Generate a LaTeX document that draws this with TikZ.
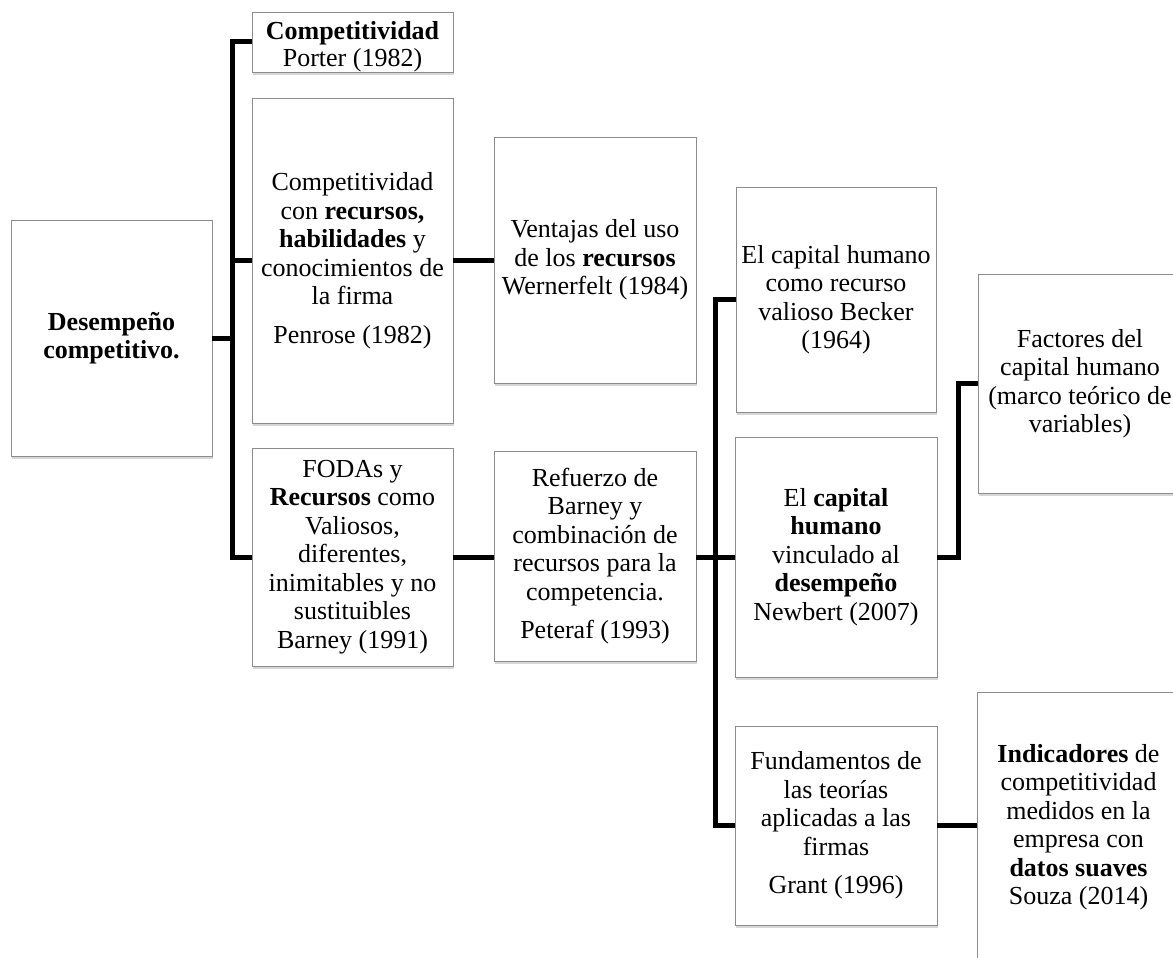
\documentclass[tikz,border=0pt]{standalone}
\usepackage{fontspec}
\setmainfont{Liberation Serif}
\usetikzlibrary{shadows,calc}
\begin{document}
\begin{tikzpicture}[x=1pt,y=-1pt,
  box/.style={draw=black!45, line width=0.9pt, fill=white, inner sep=0pt,
    align=center, anchor=center,
    drop shadow={shadow xshift=1pt, shadow yshift=-3pt, opacity=0.35, fill=black!45},
    font=\fontsize{26}{28.5}\selectfont},
  conn/.style={line width=5pt, line join=miter, line cap=butt}]
\useasboundingbox (0,0) rectangle (1173,958);
\clip (0,0) rectangle (1173,958);
\fill[white] (0,0) rectangle (1173,958);

\node[box, minimum width=201pt, minimum height=236pt] (des) at (111.5,338)
  {\textbf{Desempeño}\\\textbf{competitivo.}};
\node[box, minimum width=201pt, minimum height=60pt] (por) at (352.5,42)
  {\rule{0pt}{28pt}\textbf{Competitividad}\\[-2pt]Porter (1982)};
\node[box, minimum width=201pt, minimum height=325pt] (pen) at (352.5,260.5)
  {Competitividad\\con \textbf{recursos,}\\\textbf{habilidades} y\\conocimientos de\\la firma\\[10pt]Penrose (1982)};
\node[box, minimum width=201pt, minimum height=218pt] (bar) at (352.5,557)
  {FODAs y\\\textbf{Recursos} como\\Valiosos,\\diferentes,\\inimitables y no\\sustituibles\\Barney (1991)};
\node[box, minimum width=202pt, minimum height=246pt] (wer) at (595,260)
  {Ventajas del uso\\de los \textbf{recursos}\\Wernerfelt (1984)};
\node[box, minimum width=202pt, minimum height=210pt] (pet) at (595,556)
  {Refuerzo de\\Barney y\\combinación de\\recursos para la\\competencia.\\[10pt]Peteraf (1993)};
\node[box, minimum width=200pt, minimum height=225pt] (bec) at (836,299.5)
  {El capital humano\\como recurso\\valioso Becker\\(1964)};
\node[box, minimum width=202pt, minimum height=240pt] (new) at (836,557)
  {El \textbf{capital}\\\textbf{humano}\\vinculado al\\\textbf{desempeño}\\Newbert (2007)};
\node[box, minimum width=202pt, minimum height=199pt] (gra) at (836,825.5)
  {Fundamentos de\\las teorías\\aplicadas a las\\firmas\\[10pt]Grant (1996)};
\node[box, minimum width=204pt, minimum height=219pt] (fac) at (1080,383.5)
  {Factores del\\capital humano\\(marco teórico de\\variables)};
\node[box, minimum width=203pt, minimum height=270pt] (sou) at (1078.5,827)
  {\textbf{Indicadores} de\\competitividad\\medidos en la\\empresa con\\\textbf{datos suaves}\\Souza (2014)};

\coordinate (t1) at (232.5,338);
\coordinate (t2) at (715,557);
\coordinate (t3) at (958,470);

\draw[conn] (des.east) -- (t1);
\draw[conn] (por.west) -| (t1) |- (bar.west);
\draw[conn] (pen.west) -- (pen.west -| t1);
\draw[conn] (pen.east) -- (pen.east -| wer.west);
\draw[conn] (bar.east) -- (bar.east -| pet.west);
\draw[conn] (bec.west) -| (t2) |- (gra.west);
\draw[conn] (pet.east |- t2) -- (new.west);
\draw[conn] (new.east) -| (t3) |- (fac.west);
\draw[conn] (gra.east) -- (gra.east -| sou.west);
\end{tikzpicture}
\end{document}
